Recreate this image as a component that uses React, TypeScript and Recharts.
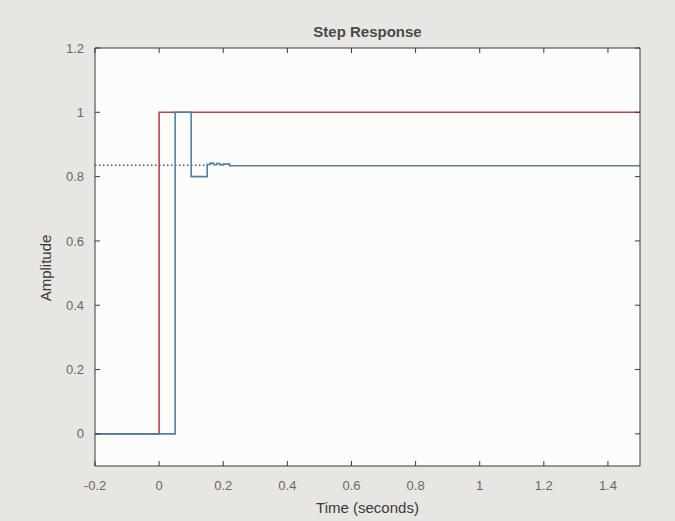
import { LineChart, Line, XAxis, YAxis, CartesianGrid } from "recharts";

// step input reference (red)
const inputTime = [-0.2, 0, 1.5];
const inputAmp = [0, 1, 1];

// discrete system response (blue)
const respTime = [-0.2, 0, 0.05, 0.1, 0.15, 0.16, 0.17, 0.18, 0.19, 0.2, 0.22, 1.5];
const respAmp = [0, 0, 1, 0.8, 0.838, 0.842, 0.837, 0.841, 0.836, 0.839, 0.834, 0.833];

// steady-state marker (dotted)
const steadyTime = [-0.2, 0.15];
const steadyAmp = [0.835, 0.835];

const xTicks = [-0.2, 0, 0.2, 0.4, 0.6, 0.8, 1, 1.2, 1.4];
const yTicks = [0, 0.2, 0.4, 0.6, 0.8, 1, 1.2];

const toPoints = (t: number[], v: number[]) => t.map((x, i) => ({ t: x, v: v[i] }));

const FONT = "'Liberation Sans', Arial, sans-serif";
const axisColor = "#3a3a3a";
const tickStyle = { fontSize: 13, fill: "#666", fontFamily: FONT };

export default function App() {
  return (
    <div
      style={{
        position: "absolute",
        left: 0,
        top: 0,
        width: 675,
        height: 521,
        background: "#e8e6e2",
        fontFamily: FONT,
      }}
    >
      <div
        style={{
          position: "absolute",
          top: 23,
          width: 675,
          left: 30,
          textAlign: "center",
          fontWeight: "bold",
          fontSize: 15,
          color: "#4a4a4a",
        }}
      >
        Step Response
      </div>
      <div
        style={{
          position: "absolute",
          top: 499,
          width: 675,
          left: 30,
          textAlign: "center",
          fontSize: 15,
          color: "#3a3a3a",
        }}
      >
        Time (seconds)
      </div>
      <div
        style={{
          position: "absolute",
          left: 45,
          top: 268,
          transform: "translate(-50%, -50%) rotate(-90deg)",
          fontSize: 15,
          color: "#3a3a3a",
          whiteSpace: "nowrap",
        }}
      >
        Amplitude
      </div>
      <LineChart
        width={675}
        height={521}
        margin={{ top: 47, right: 34, bottom: 0, left: 55 }}
        style={{ position: "absolute", left: 0, top: 0 }}
      >
        <CartesianGrid fill="#fcfcfb" horizontal={false} vertical={false} />
        <XAxis
          xAxisId="b"
          type="number"
          dataKey="t"
          domain={[-0.2, 1.5]}
          ticks={xTicks}
          allowDataOverflow
          height={55}
          tickSize={-5}
          tickMargin={20}
          tick={tickStyle}
          stroke={axisColor}
        />
        <XAxis
          xAxisId="top"
          orientation="top"
          type="number"
          dataKey="t"
          domain={[-0.2, 1.5]}
          ticks={xTicks}
          allowDataOverflow
          height={1}
          tickSize={-5}
          tickFormatter={() => ""}
          stroke={axisColor}
        />
        <YAxis
          yAxisId="l"
          type="number"
          domain={[-0.1, 1.2]}
          ticks={yTicks}
          allowDataOverflow
          width={40}
          tickSize={-5}
          tickMargin={16}
          tick={tickStyle}
          stroke={axisColor}
        />
        <YAxis
          yAxisId="r"
          orientation="right"
          type="number"
          domain={[-0.1, 1.2]}
          ticks={yTicks}
          allowDataOverflow
          width={1}
          tickSize={-5}
          tickFormatter={() => ""}
          stroke={axisColor}
        />
        <Line
          xAxisId="b"
          yAxisId="l"
          data={toPoints(steadyTime, steadyAmp)}
          dataKey="v"
          type="linear"
          stroke="#44586c"
          strokeWidth={1.5}
          strokeDasharray="1.5 2.5"
          dot={false}
          isAnimationActive={false}
        />
        <Line
          xAxisId="b"
          yAxisId="l"
          data={toPoints(inputTime, inputAmp)}
          dataKey="v"
          type="stepAfter"
          stroke="#b8434f"
          strokeWidth={1.6}
          dot={false}
          isAnimationActive={false}
        />
        <Line
          xAxisId="b"
          yAxisId="l"
          data={toPoints(respTime, respAmp)}
          dataKey="v"
          type="stepAfter"
          stroke="#4f80a6"
          strokeWidth={1.6}
          dot={false}
          isAnimationActive={false}
        />
      </LineChart>
    </div>
  );
}
